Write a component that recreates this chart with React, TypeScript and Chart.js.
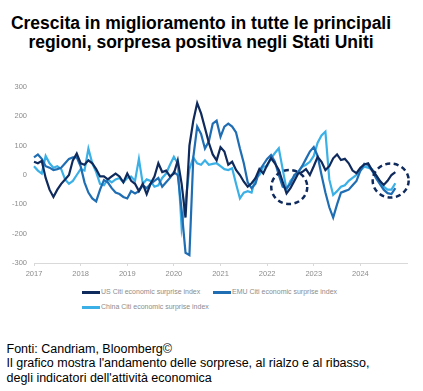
import React, { useEffect, useRef } from "react";
import { Chart, registerables } from "chart.js";

Chart.register(...registerables);

const years = ["2017", "2018", "2019", "2020", "2021", "2022", "2023", "2024"];

// Monthly values, Jan 2017 .. Oct 2024
const usValues = [
  45, 40, 48, -10, -50, -75, -50, -30, -15, 0, 50, 73,
  40, 35, 50, 40, 20, -5, -5, -15, -5, 5, -5, -25,
  5, -20, -30, -55, -30, -65, -30, -5, 40, 10, 15, -5,
  5, 50, -30, -145, 100, 185, 245, 210, 160, 110, 70, 50,
  95, 80, 35, 45, 17, 0, -23, -40, -28, -11, 20, 5,
  34, 57, 40, 17, -23, -63, -45, -20, 5, 10, 20, 0,
  30, 62, 45, 17, 30, 57, 70, 51, 55, 40, 15, 6,
  25, 36, 40, 17, 0, -20, -34, -20, 0, 10,
];
const emuValues = [
  60, 70, 55, 30, 25, 17, 20, 25, 40, 55, 60, 60,
  30, -25, -60, -80, -90, -50, -17, -25, -45, -60, -65, -75,
  -80, -55, -63, -55, -35, -45, -30, -20, -10, -40, -25, -10,
  10, 0, -120, -265, -273, 60, 165, 140, 90, 115, 175, 185,
  130, 165, 175, 165, 145, 90, 40, -25, -45, -30, 15, 35,
  55, 68, 45, 0, -40, -45, -30, 0, 10, 30, 55, 80,
  95, 65, 0, -60, -110, -145, -100, -60, -55, -50, -35, -20,
  15, 38, 34, 15, -10, -30, -50, -62, -65, -45,
];
const chinaValues = [
  30, 15, 5, 65, 40, 25, 30, 20, -15, -30, -20, 0,
  20, 15, 90, 40, 10, -30, -35, -15, -25, -15, -10, -25,
  -10, -5, -20, 55, -30, -15, -20, -40, -35, -10, 5, 35,
  62, 40, -180, -90, 20, 60, 40, 35, 50, 35, 38, 40,
  30, 20, 17, 23, -30, -80, -60, -55, -60, -11, 0, 28,
  30, 57, 75, 91, 20, -50, -20, -5, 10, 28, 35, 45,
  65, 110, 135, 148, -15, -68, -55, -40, -35, -20, -10, 0,
  15, 28, 25, 20, 0, -20, -40, -50, -50, -28,
];

const seriesNames = [
  "US Citi economic surprise index",
  "EMU Citi economic surprise index",
  "China Citi economic surprise index",
];
const seriesColors = ["#0f2a5c", "#1f6db3", "#3ab0e6"];

// dashed highlight circles (month index, value)
const circleMonths = [65.7, 91.8];
const circleValues = [-41, -19];

const monthLabels: string[] = [];
years.forEach((y) => {
  for (let m = 1; m <= 12; m++) monthLabels.push(`${y}-${m}`);
});
monthLabels.push("2025-1");

const circlePlugin = {
  id: "circles",
  afterDatasetsDraw(chart: any) {
    const { ctx, scales } = chart;
    ctx.save();
    ctx.strokeStyle = "#0f2a5c";
    ctx.lineWidth = 2.5;
    ctx.setLineDash([5, 3.5]);
    circleMonths.forEach((m, i) => {
      const cx = scales.x.getPixelForValue(m);
      const cy = scales.y.getPixelForValue(circleValues[i]);
      ctx.beginPath();
      ctx.ellipse(cx, cy, 18, 17, 0, 0, Math.PI * 2);
      ctx.stroke();
    });
    ctx.restore();
  },
};

const tickFont = { family: "'Liberation Sans', Arial, sans-serif", size: 7.5 };
const tickColor = "#8c8c8c";

export default function App() {
  const ref = useRef<HTMLCanvasElement | null>(null);

  useEffect(() => {
    if (!ref.current) return;
    const data = [usValues, emuValues, chinaValues];
    const chart = new Chart(ref.current, {
      type: "line",
      data: {
        labels: monthLabels,
        datasets: data.map((vals, i) => ({
          label: seriesNames[i],
          data: vals,
          borderColor: seriesColors[i],
          backgroundColor: seriesColors[i],
          borderWidth: 2.2,
          pointRadius: 0,
          tension: 0,
          fill: false,
        })),
      },
      options: {
        responsive: false,
        animation: false,
        devicePixelRatio: 1,
        layout: { padding: { top: 12, right: 16, bottom: 0, left: 0 } },
        plugins: { legend: { display: false }, tooltip: { enabled: false } },
        scales: {
          x: {
            type: "category",
            offset: false,
            grid: {
              display: true,
              drawOnChartArea: false,
              drawTicks: true,
              tickLength: 3,
              color: "#d9d9d9",
            },
            border: { display: true, color: "#d9d9d9", width: 1 },
            ticks: {
              autoSkip: false,
              maxRotation: 0,
              padding: 3,
              font: tickFont,
              color: tickColor,
              callback: (_v: any, i: number) =>
                i % 12 === 0 && years[i / 12] !== undefined ? years[i / 12] : null,
            },
            afterFit: (s: any) => {
              s.height = 22;
            },
          },
          y: {
            min: -300,
            max: 300,
            grid: { display: false, drawTicks: false },
            border: { display: false },
            ticks: {
              stepSize: 100,
              padding: 7,
              font: tickFont,
              color: tickColor,
            },
            afterFit: (s: any) => {
              s.width = 34;
            },
          },
        },
      },
      plugins: [circlePlugin],
    } as any);
    return () => chart.destroy();
  }, []);

  const legendText: React.CSSProperties = {
    position: "absolute",
    fontFamily: "'Liberation Sans', Arial, sans-serif",
    fontSize: 7,
    color: "#8c8c8c",
    lineHeight: "10px",
    whiteSpace: "nowrap",
  };
  const legendItems = [
    { x: 82, y: 292 },
    { x: 213, y: 292 },
    { x: 82, y: 307 },
  ];

  return (
    <div
      style={{
        position: "absolute",
        left: 0,
        top: 0,
        width: 423,
        height: 391,
        background: "#fff",
        overflow: "hidden",
      }}
    >
      <div
        style={{
          position: "absolute",
          top: 14,
          left: 0,
          width: 402,
          textAlign: "center",
          fontFamily: "'Liberation Sans', Arial, sans-serif",
          fontWeight: "bold",
          fontSize: 17.5,
          lineHeight: "18.5px",
          color: "#000",
          whiteSpace: "nowrap",
        }}
      >
        Crescita in miglioramento in tutte le principali
        <br />
        regioni, sorpresa positiva negli Stati Uniti
      </div>
      <canvas
        ref={ref}
        width={423}
        height={210}
        style={{ position: "absolute", left: 0, top: 75, width: 423, height: 210 }}
      />
      {legendItems.map((it, i) => (
        <React.Fragment key={i}>
          <div
            style={{
              position: "absolute",
              left: it.x,
              top: it.y - 1,
              width: 18,
              height: 2.5,
              background: seriesColors[i],
            }}
          />
          <div style={{ ...legendText, left: it.x + 19, top: it.y - 5 }}>{seriesNames[i]}</div>
        </React.Fragment>
      ))}
      <div
        style={{
          position: "absolute",
          left: 6.5,
          top: 341.5,
          fontFamily: "'Liberation Sans', Arial, sans-serif",
          fontSize: 12.5,
          lineHeight: "14.5px",
          color: "#000",
          whiteSpace: "nowrap",
        }}
      >
        Fonti: Candriam, Bloomberg©
        <br />
        Il grafico mostra l'andamento delle sorprese, al rialzo e al ribasso,
        <br />
        degli indicatori dell'attività economica
      </div>
    </div>
  );
}
